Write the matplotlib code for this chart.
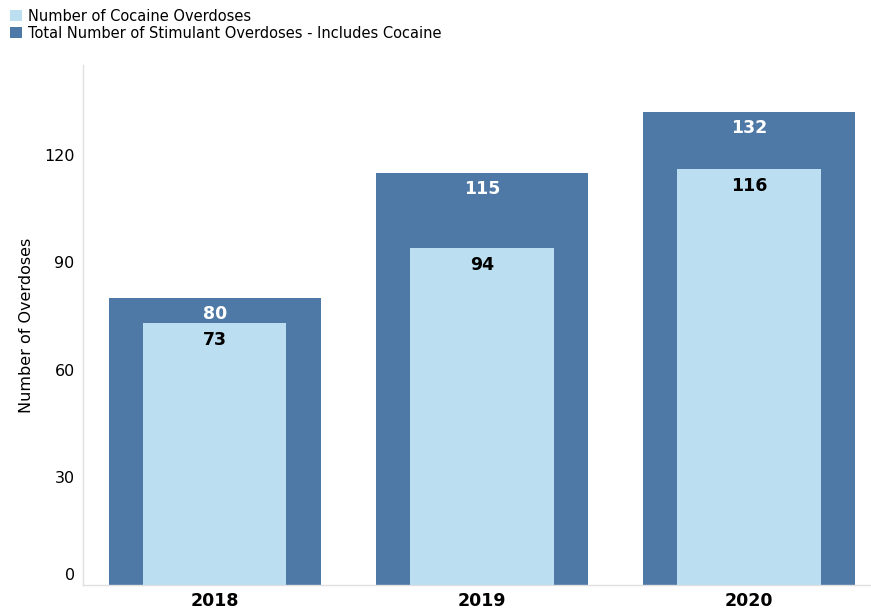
import matplotlib
matplotlib.use("Agg")
import matplotlib.pyplot as plt
from matplotlib.patches import Patch
from matplotlib.transforms import ScaledTranslation

years = ["2018", "2019", "2020"]
cocaine = [73, 94, 116]
stimulant_total = [80, 115, 132]
yticks = [0, 30, 60, 90, 120]

dark = "#4E78A5"
light = "#BBDEF0"

plt.rcParams['font.family'] = ['DejaVu Sans']

fig = plt.figure(figsize=(8.71, 6.12), dpi=100)
ax = fig.add_axes([83/871, 1 - 585/612, 788/871, 520/612])

x = list(range(len(years)))
ax.bar(x, stimulant_total, width=0.794, color=dark, zorder=2)
ax.bar(x, cocaine, width=0.536, color=light, zorder=3)

for xi, v in zip(x, stimulant_total):
    ax.text(xi, v - 2.0, str(v), ha="center", va="top", color="white",
            fontsize=12.5, fontweight="bold", zorder=4)
for xi, v in zip(x, cocaine):
    ax.text(xi, v - 2.3, str(v), ha="center", va="top", color="black",
            fontsize=12.5, fontweight="bold", zorder=4)

ax.set_xlim(-0.494, 2.457)
ax.set_ylim(0, 145)
ax.set_yticks(yticks)
ax.set_xticks(x)
ax.set_xticklabels(years, fontsize=12.5, fontweight="bold")
ax.tick_params(axis="y", labelsize=11.5, length=0, pad=6)
ax.tick_params(axis="x", length=0, pad=5)
ax.set_ylabel("Number of Overdoses", fontsize=11.5)
ax.yaxis.set_label_coords(-0.062, 0.5)

lbl0 = ax.get_yticklabels()[0]
lbl0.set_transform(lbl0.get_transform() + ScaledTranslation(0, 0.11, fig.dpi_scale_trans))

for s in ["top", "right"]:
    ax.spines[s].set_visible(False)
for s in ["left", "bottom"]:
    ax.spines[s].set_color("#E0E0E0")
    ax.spines[s].set_linewidth(1)

handles = [Patch(facecolor=light, label="Number of Cocaine Overdoses"),
           Patch(facecolor=dark, label="Total Number of Stimulant Overdoses - Includes Cocaine")]
fig.legend(handles=handles, loc="upper left", bbox_to_anchor=(0.002, 1.0),
           frameon=False, fontsize=10.5, handlelength=0.8, handleheight=0.8,
           handletextpad=0.4, labelspacing=0.15, borderaxespad=0.2)

fig.savefig("out.png", dpi=100)
